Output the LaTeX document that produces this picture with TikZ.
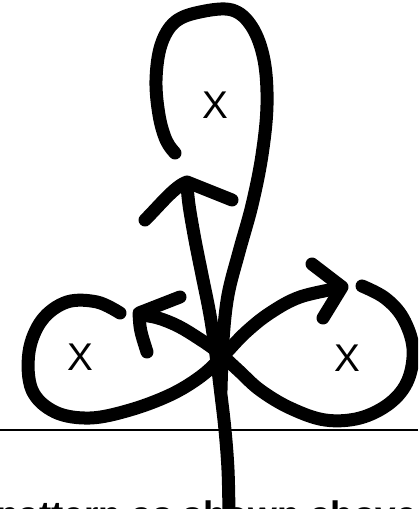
\documentclass[tikz,border=0pt]{standalone}
\usepackage{fontspec}
\setmainfont{Liberation Sans}
\usetikzlibrary{positioning}

\begin{document}
\begin{tikzpicture}[x=0.02cm, y=-0.02cm,
  stroke/.style={line width=7.4pt, line cap=round, line join=round},
  lbl/.style={font=\fontsize{22}{22}\selectfont, inner sep=0pt},
  capt/.style={font=\bfseries\fontsize{21}{21}\selectfont, anchor=base west, inner sep=0pt}
]
\useasboundingbox (0,0) rectangle (418,509);
\clip (0,0) rectangle (418,509);

%% Ground line
\draw[line width=1.1pt] (0,430) coordinate (gl) -- (418,430) coordinate (gr);

%% Trunk with open arrowhead at the top
\draw[stroke] plot[smooth, tension=0.6] coordinates {(229,515) (228,470) (225,430) (221,395) (216,355) (210,315) (202,275) (195,240) (189,205) (187,184)};
\coordinate (ttip) at (187,182);
\draw[stroke] (145,220) .. controls (160,205) and (175,186) .. (ttip) -- (232,200);

%% Upper loop
\draw[stroke] plot[smooth, tension=0.6] coordinates {(221,390) (223,340) (228,295) (239,252) (252,205) (262,155) (267,105) (264,60) (252,27) (232,10) (200,12) (175,22) (161,45) (156,80) (159,115) (166,140) (175,153)};

%% Right loop, crossing into the left arrow
\draw[stroke] plot[smooth, tension=0.6] coordinates {(362,286) (385,298) (403,318) (413,348) (408,380) (390,403) (360,418) (325,420) (290,408) (260,390) (238,370) (218,352) (198,338) (178,326) (158,318) (141,315)};
\coordinate (ltip) at (139,313);
\draw[stroke] (180,297) -- (ltip) .. controls (140,330) .. (147,352);

%% Left loop, crossing into the right arrow
\draw[stroke] plot[smooth, tension=0.6] coordinates {(120,313) (97,302) (67,302) (42,320) (29,352) (32,390) (55,412) (90,418) (130,410) (170,395) (200,377) (222,357) (245,333) (270,313) (300,297) (340,288)};
\coordinate (rtip) at (342,287);
\draw[stroke] (312,264) -- (rtip) -- (323,318);

%% Loop marks
\node[lbl] (xtop)   at (215,105) {X};
\node[lbl] (xleft)  at (80,357)  {X};
\node[lbl] (xright) at (347,358) {X};

%% Caption, cut at the lower edge as in the scan
\node[capt] (caption) at (-4,527.5) {pattern as shown above};
\end{tikzpicture}
\end{document}
